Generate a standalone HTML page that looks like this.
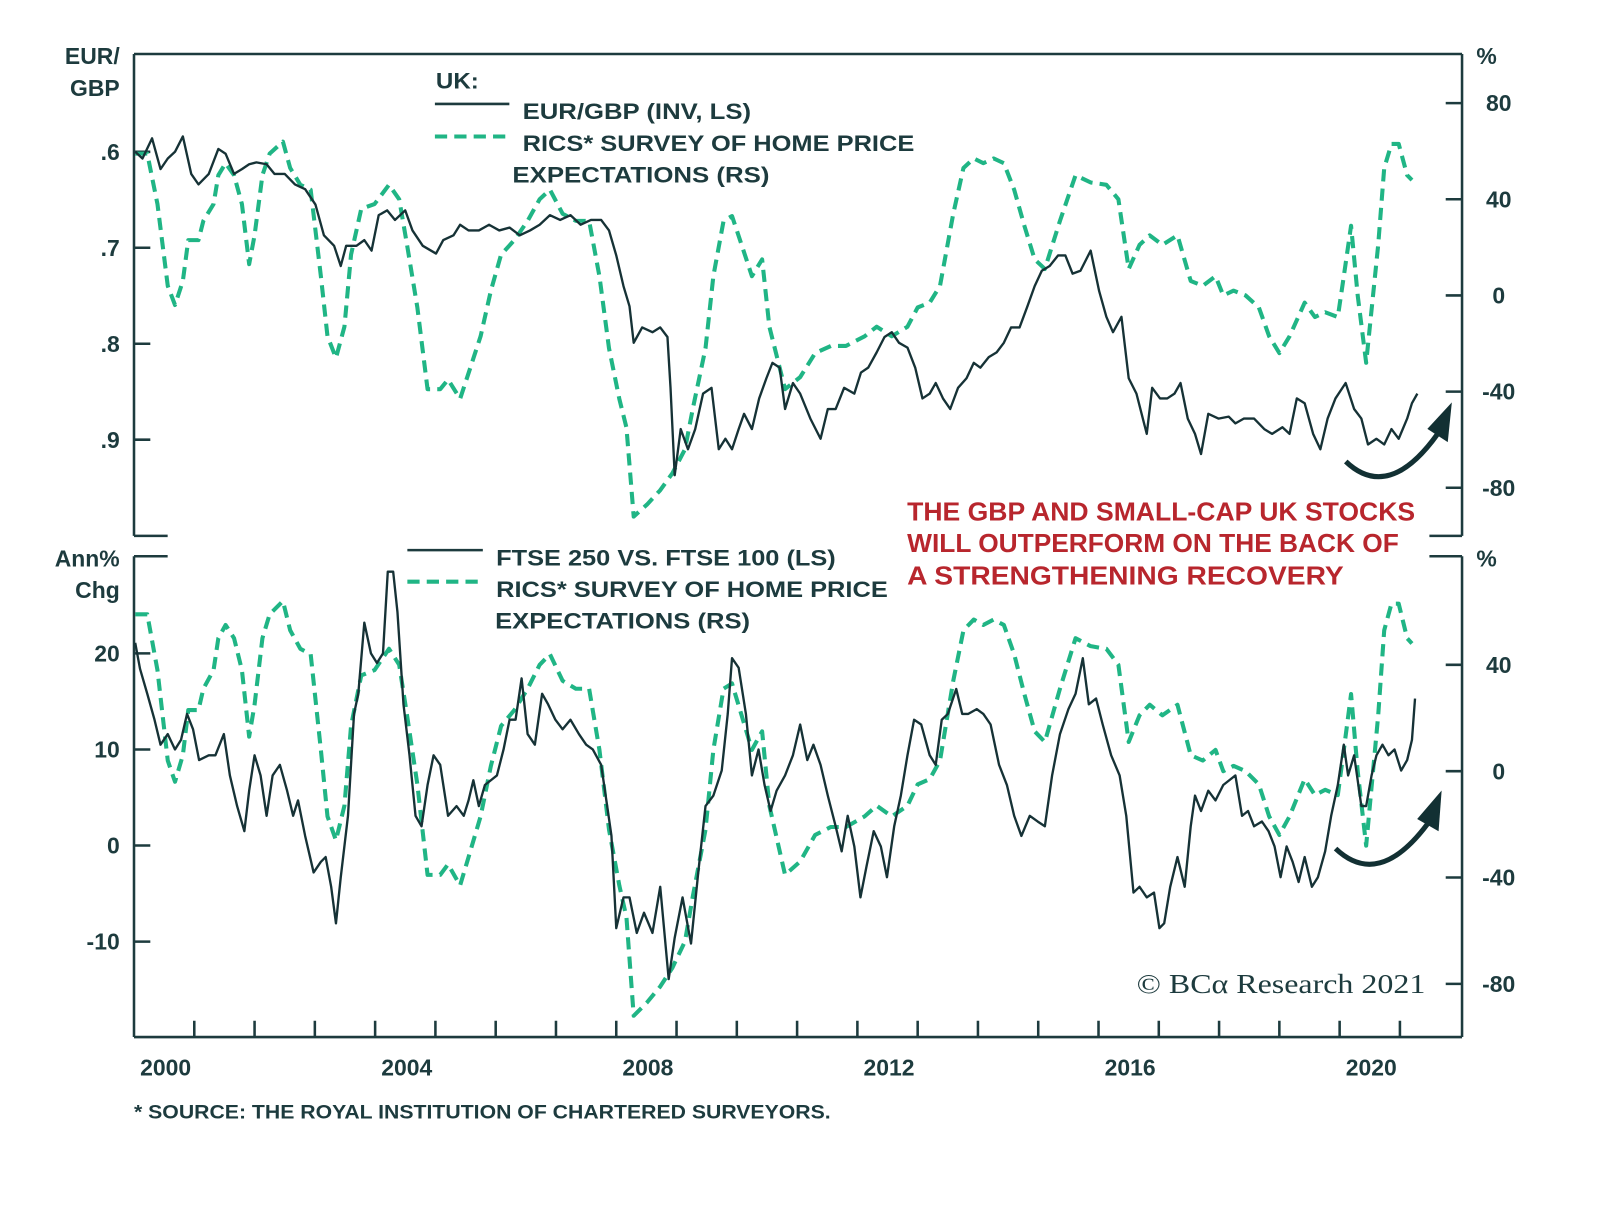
<!DOCTYPE html>
<html><head><meta charset="utf-8"><style>
html,body{margin:0;padding:0;background:#fff;}
svg{display:block;}
text{font-family:"Liberation Sans",Arial,sans-serif;font-weight:bold;fill:#1d3b3e;}
</style></head><body>
<svg id="chart" width="1600" height="1218" viewBox="0 0 1600 1218" xmlns="http://www.w3.org/2000/svg">
<rect width="1600" height="1218" fill="#fff"/>
<g id="root" transform="translate(134,54) scale(1.02,1.0187) translate(-132,-52)">
 <g id="frame" stroke="#1d3b3e" stroke-width="2.5" fill="none">
  <path d="M132,52 H1434 M132,52 V525 M1434,52 V525 M132,525 H165 M1402,525 H1434"/>
  <path d="M132,545 H165 M1402,545 H1434 M132,545 V1017 M1434,545 V1017 M132,1017 H1434"/>
 </g>
 <g id="ticks" stroke="#1d3b3e" stroke-width="2.5"></g>
 <g id="labels"></g>
 <g id="series"></g>
 <g>
  <text x="428" y="86" font-size="22" textLength="42" lengthAdjust="spacingAndGlyphs">UK:</text>
  <line x1="427" y1="101" x2="500" y2="101" stroke="#1d3b3e" stroke-width="2.5"/>
  <text x="513" y="116" font-size="22" textLength="224" lengthAdjust="spacingAndGlyphs">EUR/GBP (INV, LS)</text>
  <line x1="427" y1="133" x2="500" y2="133" stroke="#20b585" stroke-width="4" stroke-dasharray="12 7"/>
  <text x="513" y="147" font-size="22" textLength="384" lengthAdjust="spacingAndGlyphs">RICS* SURVEY OF HOME PRICE</text>
  <text x="503" y="178" font-size="22" textLength="252" lengthAdjust="spacingAndGlyphs">EXPECTATIONS (RS)</text>
 </g>
 <g>
  <line x1="400" y1="539" x2="474" y2="539" stroke="#1d3b3e" stroke-width="2.5"/>
  <text x="487" y="554" font-size="22" textLength="333" lengthAdjust="spacingAndGlyphs">FTSE 250 VS. FTSE 100 (LS)</text>
  <line x1="400" y1="570" x2="474" y2="570" stroke="#20b585" stroke-width="4" stroke-dasharray="12 7"/>
  <text x="487" y="585" font-size="22" textLength="384" lengthAdjust="spacingAndGlyphs">RICS* SURVEY OF HOME PRICE</text>
  <text x="486" y="616" font-size="22" textLength="250" lengthAdjust="spacingAndGlyphs">EXPECTATIONS (RS)</text>
 </g>
 <g>
  <text x="890" y="510" textLength="498" lengthAdjust="spacingAndGlyphs" style="fill:#b8262d;font-size:25px">THE GBP AND SMALL-CAP UK STOCKS</text>
  <text x="890" y="541" textLength="482" lengthAdjust="spacingAndGlyphs" style="fill:#b8262d;font-size:25px">WILL OUTPERFORM ON THE BACK OF</text>
  <text x="890" y="573" textLength="428" lengthAdjust="spacingAndGlyphs" style="fill:#b8262d;font-size:25px">A STRENGTHENING RECOVERY</text>
 </g>
 <g fill="none" stroke="#123033" stroke-width="5">
  <path d="M1320,452 Q1362,492 1410,425"/>
  <polygon points="1400,420 1424,394 1420,433" fill="#123033" stroke="none"/>
  <path d="M1310,832 Q1352,872 1400,808"/>
  <polygon points="1390,803 1414,775 1411,815" fill="#123033" stroke="none"/>
 </g>
 <text x="1115" y="974" textLength="283" lengthAdjust="spacingAndGlyphs" style="font-family:'Liberation Serif',serif;font-weight:normal;font-size:27px">© BCα Research 2021</text>
 <text x="132" y="1097" font-size="19" textLength="683" lengthAdjust="spacingAndGlyphs">*  SOURCE: THE ROYAL INSTITUTION OF CHARTERED SURVEYORS.</text>
</g>
</svg>
<script>
// Time offsets are years since Jan 2000
const eurT=[0.02,0.14,0.30,0.44,0.56,0.68,0.81,0.95,1.07,1.24,1.40,1.52,1.66,1.79,1.91,2.03,2.20,2.33,2.50,2.67,2.84,3.01,3.15,3.32,3.43,3.52,3.69,3.82,3.94,4.06,4.20,4.33,4.50,4.62,4.79,5.01,5.13,5.30,5.41,5.55,5.72,5.89,6.06,6.23,6.40,6.57,6.73,6.90,7.07,7.24,7.41,7.58,7.75,7.88,8.00,8.12,8.22,8.29,8.43,8.60,8.73,8.85,8.90,8.97,9.07,9.19,9.31,9.44,9.58,9.70,9.81,9.92,10.03,10.12,10.25,10.37,10.49,10.59,10.71,10.80,10.93,11.05,11.22,11.39,11.51,11.64,11.78,11.95,12.06,12.18,12.32,12.45,12.57,12.69,12.83,12.96,13.08,13.20,13.30,13.42,13.54,13.67,13.81,13.93,14.04,14.18,14.31,14.43,14.55,14.69,14.82,14.94,15.06,15.19,15.33,15.45,15.57,15.70,15.87,16.01,16.13,16.24,16.38,16.50,16.63,16.80,16.89,17.02,17.14,17.26,17.36,17.48,17.60,17.70,17.82,17.99,18.16,18.27,18.41,18.58,18.75,18.88,19.05,19.17,19.29,19.42,19.56,19.68,19.80,19.93,20.10,20.24,20.36,20.47,20.61,20.74,20.86,20.98,21.12,21.20,21.29];
const eurV=[.600,.607,.586,.618,.607,.600,.584,.623,.634,.623,.597,.602,.623,.618,.613,.611,.613,.623,.623,.634,.639,.655,.687,.698,.719,.698,.698,.692,.703,.666,.661,.671,.661,.682,.698,.706,.692,.687,.676,.682,.682,.676,.682,.679,.687,.682,.676,.666,.671,.666,.676,.671,.671,.682,.708,.740,.761,.799,.783,.788,.783,.793,.846,.937,.889,.910,.889,.852,.846,.910,.899,.910,.889,.873,.889,.857,.836,.820,.825,.868,.841,.852,.878,.899,.868,.868,.846,.852,.830,.825,.809,.793,.788,.799,.804,.825,.857,.852,.841,.857,.868,.846,.836,.820,.825,.814,.809,.799,.783,.783,.761,.740,.724,.719,.708,.708,.727,.724,.703,.745,.772,.788,.772,.836,.852,.894,.846,.857,.857,.852,.841,.878,.894,.915,.873,.878,.876,.883,.878,.878,.889,.894,.887,.894,.857,.862,.894,.910,.878,.857,.841,.868,.878,.905,.899,.905,.889,.899,.878,.862,.852];
const ftseT=[0.02,0.10,0.22,0.34,0.44,0.56,0.68,0.78,0.88,0.98,1.08,1.24,1.35,1.49,1.59,1.71,1.83,1.91,2.00,2.10,2.20,2.30,2.42,2.54,2.64,2.72,2.84,2.98,3.10,3.18,3.27,3.35,3.43,3.55,3.65,3.72,3.82,3.93,4.03,4.13,4.21,4.30,4.37,4.47,4.57,4.67,4.77,4.87,4.97,5.08,5.21,5.35,5.47,5.55,5.63,5.72,5.82,5.92,6.02,6.13,6.23,6.33,6.43,6.53,6.65,6.77,6.87,6.99,7.11,7.24,7.38,7.50,7.61,7.75,7.85,7.92,8.00,8.12,8.22,8.34,8.46,8.60,8.73,8.87,8.97,9.10,9.24,9.36,9.48,9.61,9.75,9.85,9.92,10.03,10.15,10.25,10.36,10.46,10.56,10.66,10.80,10.93,11.05,11.17,11.27,11.39,11.51,11.64,11.74,11.84,11.95,12.05,12.15,12.27,12.39,12.49,12.61,12.72,12.83,12.94,13.06,13.20,13.30,13.40,13.50,13.64,13.74,13.84,13.98,14.09,14.21,14.35,14.48,14.60,14.72,14.86,14.99,15.11,15.23,15.36,15.50,15.62,15.74,15.84,15.96,16.07,16.21,16.35,16.46,16.58,16.68,16.80,16.92,17.01,17.09,17.19,17.31,17.43,17.53,17.60,17.70,17.82,17.94,18.07,18.17,18.27,18.38,18.48,18.58,18.71,18.82,18.92,19.02,19.12,19.22,19.32,19.42,19.54,19.64,19.76,19.86,19.97,20.07,20.14,20.24,20.36,20.44,20.53,20.61,20.71,20.81,20.91,21.02,21.12,21.20,21.25];
const ftseV=[21.1,18.4,15.8,13.1,10.5,11.6,10.0,11.0,13.7,12.1,8.9,9.4,9.4,11.6,7.3,4.1,1.5,5.7,9.4,7.3,3.1,7.3,8.4,5.7,3.1,4.7,1.0,-2.8,-1.7,-1.2,-4.3,-8.1,-3.3,3.1,13.7,15.8,23.2,20.0,19.0,20.0,28.5,28.5,24.3,14.7,9.4,3.1,2.0,6.3,9.4,8.4,3.1,4.1,3.1,4.7,6.8,4.1,6.3,6.8,7.3,10.0,13.1,13.1,17.4,11.6,10.5,15.8,14.7,13.1,12.1,13.1,11.6,10.5,10.0,8.4,4.1,1.0,-8.6,-5.4,-5.4,-9.1,-7.0,-9.1,-4.3,-13.9,-9.6,-5.4,-10.2,-2.8,4.1,5.2,7.8,13.7,19.5,18.5,13.7,7.3,10.0,6.3,3.6,5.7,7.3,9.4,12.6,8.9,10.5,8.4,5.2,2.0,-0.6,3.1,-0.1,-5.4,-2.2,1.5,-0.1,-3.3,2.0,5.2,9.4,13.1,12.6,9.4,8.4,13.1,13.7,16.3,13.7,13.7,14.2,13.7,12.6,8.4,6.3,3.1,1.0,3.1,2.5,2.0,7.3,11.6,14.2,15.8,19.5,14.7,15.3,12.6,9.4,7.3,3.1,-4.9,-4.3,-5.4,-4.9,-8.6,-8.1,-4.3,-1.2,-4.3,2.0,5.2,3.6,5.7,4.7,6.3,6.8,7.3,3.1,3.6,2.0,2.5,1.5,-0.1,-3.3,-0.1,-1.7,-3.8,-1.2,-4.3,-3.3,-0.6,3.1,6.3,10.5,7.3,9.4,4.1,4.1,7.3,9.4,10.5,9.4,10.0,7.8,8.9,11.0,15.3];
const ricsT=[0.02,0.22,0.39,0.56,0.68,0.81,0.90,1.07,1.15,1.32,1.40,1.52,1.66,1.79,1.91,2.00,2.13,2.25,2.47,2.59,2.76,2.93,3.10,3.21,3.35,3.49,3.60,3.77,3.99,4.23,4.40,4.53,4.70,4.87,5.08,5.21,5.41,5.58,5.75,5.92,6.09,6.31,6.53,6.73,6.90,7.11,7.33,7.55,7.72,7.88,8.05,8.17,8.29,8.51,8.73,8.93,9.14,9.27,9.48,9.61,9.78,9.92,10.08,10.25,10.42,10.54,10.80,11.05,11.30,11.56,11.81,12.12,12.32,12.57,12.83,13.00,13.20,13.37,13.59,13.76,13.93,14.09,14.26,14.43,14.60,14.77,14.94,15.11,15.36,15.62,15.87,16.13,16.33,16.50,16.68,16.85,17.06,17.31,17.53,17.73,17.94,18.07,18.24,18.44,18.66,18.83,19.00,19.17,19.42,19.59,19.76,19.97,20.07,20.19,20.30,20.44,20.57,20.64,20.74,20.86,20.98,21.12,21.20];
const ricsV=[59,59,38,4,-4,6,23,23,31,38,50,55,50,38,13,25,50,59,64,53,46,44,8,-17,-26,-13,17,36,38,46,40,21,-5,-39,-39,-35,-43,-30,-17,2,17,23,31,40,44,34,31,31,8,-22,-43,-55,-92,-87,-81,-74,-64,-47,-22,8,31,33,21,8,15,-13,-39,-34,-24,-21,-21,-17,-13,-17,-13,-5,-3,4,34,53,57,55,57,55,44,29,15,11,31,50,47,46,40,11,21,25,21,25,6,4,8,0,2,0,-5,-17,-24,-17,-3,-9,-7,-9,8,29,0,-28,4,21,53,63,63,50,48];
const yearTicks=[2001,2002,2003,2004,2005,2006,2007,2008,2009,2010,2011,2012,2013,2014,2015,2016,2017,2018,2019,2020,2021];
const yearLabels=[2000,2004,2008,2012,2016,2020];
const eurTicks=[0.6,0.7,0.8,0.9];
const ftseTicks=[20,10,0,-10];
const rsTicks=[80,40,0,-40,-80];
const rsTicksB=[40,0,-40,-80];

const NS='http://www.w3.org/2000/svg';
const x=t=>132+t*59.1;
const xy=y=>132+(y-2000)*59.1;
const yEur=v=>148+(v-0.6)*942;
const yRsTop=v=>289-v*2.36;
const yFtse=v=>829-v*9.43;
const yRsBot=v=>756-v*2.61;
function mk(tag,attrs,parent){const e=document.createElementNS(NS,tag);for(const k in attrs)e.setAttribute(k,attrs[k]);parent.appendChild(e);return e;}
const ticks=document.getElementById('ticks'),labels=document.getElementById('labels'),series=document.getElementById('series');
function lbl(txt,xx,yy,anchor,name){const t=mk('text',{x:xx,y:yy,'text-anchor':anchor,'font-size':22.5},labels);t.textContent=txt;


return t;}
lbl('EUR/',118,62,'end','left-axis-title-top');lbl('GBP',118,93,'end','left-axis-title-top');
lbl('Ann%',118,555,'end','left-axis-title-bottom');lbl('Chg',118,586,'end','left-axis-title-bottom');
lbl('%',1458,62,'middle','right-axis-title-top');lbl('%',1458,555,'middle','right-axis-title-bottom');
eurTicks.forEach(v=>{const y=yEur(v);mk('line',{x1:132,x2:148,y1:y,y2:y},ticks);lbl(String(v).replace('0.','.'),118,y+8,'end','left-tick-label');});
ftseTicks.forEach(v=>{const y=yFtse(v);mk('line',{x1:132,x2:148,y1:y,y2:y},ticks);lbl(String(v),118,y+8,'end','left-tick-label');});
rsTicks.forEach(v=>{const y=yRsTop(v);mk('line',{x1:1418,x2:1434,y1:y,y2:y},ticks);lbl(String(v),1470,y+8,'middle','right-tick-label');});
rsTicksB.forEach(v=>{const y=yRsBot(v);mk('line',{x1:1418,x2:1434,y1:y,y2:y},ticks);lbl(String(v),1470,y+8,'middle','right-tick-label');});
yearTicks.forEach(yr=>{const xx=xy(yr);mk('line',{x1:xx,x2:xx,y1:1017,y2:1001},ticks);});
yearLabels.forEach(yr=>{lbl(String(yr),xy(yr)+31,1055,'middle','x-tick-label');});
function line(T,V,yf,dashed,name){
 const d=T.map((t,i)=>(i?'L':'M')+x(t).toFixed(1)+','+yf(V[i]).toFixed(1)).join(' ');
 const p=mk('path',{d:d,fill:'none',stroke:dashed?'#20b585':'#163236','stroke-width':dashed?4:2.3,'stroke-dasharray':dashed?'12 7':'none','stroke-linejoin':'round'},series);
 
 
}
line(ricsT,ricsV,yRsTop,true,'rics-line-top');
line(eurT,eurV,yEur,false,'eurgbp-line');
line(ricsT,ricsV,yRsBot,true,'rics-line-bottom');
line(ftseT,ftseV,yFtse,false,'ftse-line');
</script>
</body></html>
